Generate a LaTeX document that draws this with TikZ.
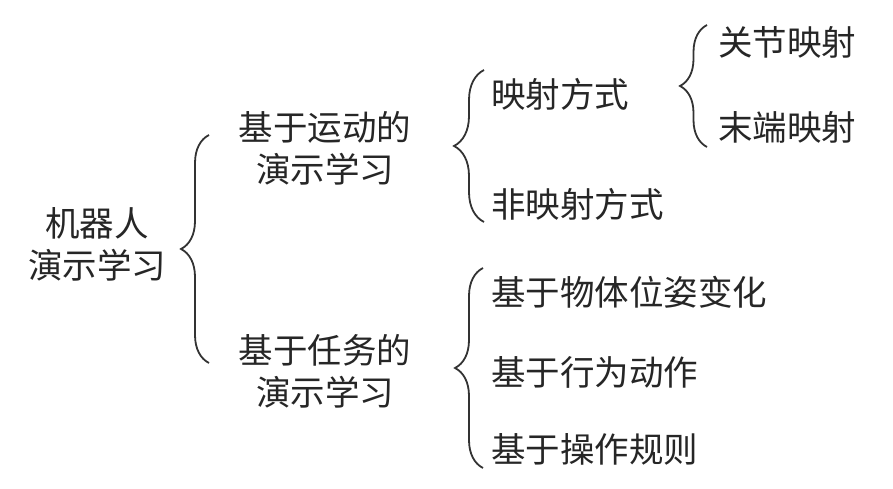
\documentclass[tikz,border=0pt]{standalone}
\usepackage{fontspec}
\newfontfamily\cjk{Noto Sans CJK SC}
\usetikzlibrary{decorations.pathreplacing}

\begin{document}
\begin{tikzpicture}[x=1pt,y=1pt,
		item/.style={anchor=west,inner sep=0pt,font=\cjk\fontsize{34.5}{42}\selectfont,text=black!85},
		group/.style={inner sep=0pt,align=center,font=\cjk\fontsize{34.5}{42}\selectfont,text=black!85},
		curly/.style={draw=black!80,line width=1.8pt,decorate,decoration={brace,amplitude=#1,aspect=0.5}}]
				\useasboundingbox (0,0) rectangle (893,489);
				\node[group] (robot) at (97,245) {机器人\\演示学习};
				\node[group] (motion) at (325,341) {基于运动的\\演示学习};
				\node[group] (task) at (325,118) {基于任务的\\演示学习};
				\node[item] (map) at (491,395) {映射方式};
				\node[item] (nomap) at (491,285) {非映射方式};
				\node[item] (joint) at (718,447) {关节映射};
				\node[item] (endeff) at (718,362) {末端映射};
				\node[item] (pose) at (491,197) {基于物体位姿变化};
				\node[item] (action) at (491,117) {基于行为动作};
				\node[item] (rule) at (491,40) {基于操作规则};
				\coordinate (robotbot) at (209,126);
				\coordinate (robottop) at (209,354);
				\coordinate (motionbot) at (484,267);
				\coordinate (motiontop) at (484,419);
				\coordinate (mapbot) at (707,342);
				\coordinate (maptop) at (707,464);
				\coordinate (taskbot) at (483,21);
				\coordinate (tasktop) at (483,221);
				\draw[curly=28] (robotbot) -- (robottop);
				\draw[curly=30] (motionbot) -- (motiontop);
				\draw[curly=27] (mapbot) -- (maptop);
				\draw[curly=28] (taskbot) -- (tasktop);
			\end{tikzpicture}
\end{document}
